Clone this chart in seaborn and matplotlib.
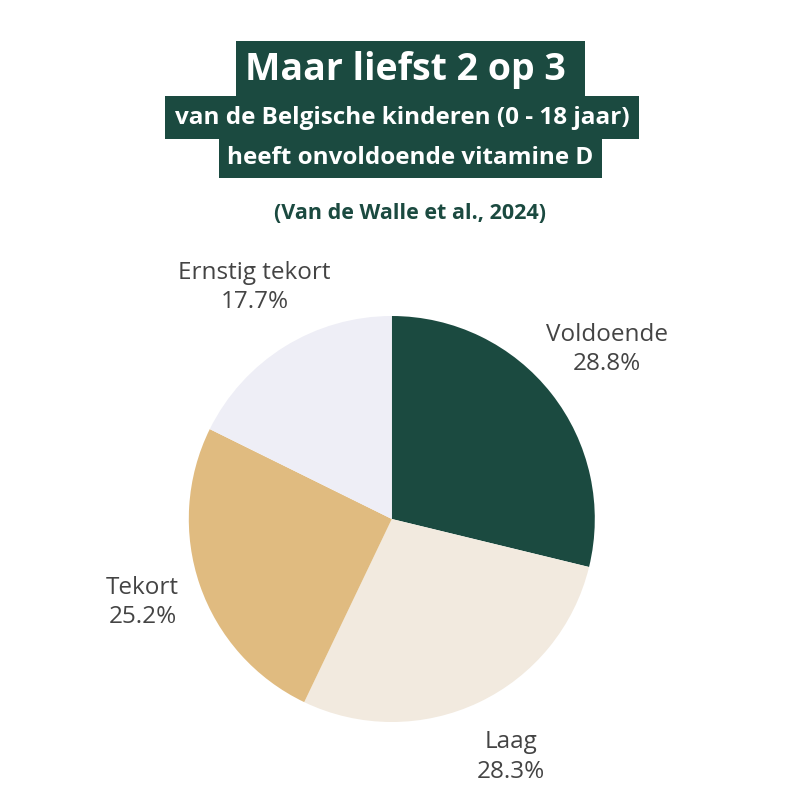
import matplotlib
matplotlib.use("Agg")
import matplotlib.pyplot as plt
import seaborn as sns

# data
categories = ["Voldoende", "Laag", "Tekort", "Ernstig tekort"]
shares = [28.8, 28.3, 25.2, 17.7]
colors = ["#1b4a40", "#f2eadf", "#e0bb80", "#eeeef6"]

title = "Maar liefst 2 op 3 "
subtitle1 = "van de Belgische kinderen (0 - 18 jaar)"
subtitle2 = "heeft onvoldoende vitamine D"
source = "(Van de Walle et al., 2024)"

sns.set_theme(style="white")
plt.rcParams['font.family'] = ['Open Sans', 'DejaVu Sans']

green = "#1b4a40"
fig = plt.figure(figsize=(8, 8), dpi=100)
fig.patch.set_facecolor("white")

# pie axes: centre ~ (392, 519) px, radius ~ 203 px
ax = fig.add_axes([0.236, 0.0975, 0.5075, 0.5075])
labels = [f"{c}\n{v:.1f}%" for c, v in zip(categories, shares)]
wedges, texts = ax.pie(shares, colors=colors, startangle=90, counterclock=False,
                       labels=labels, labeldistance=1.32,
                       textprops=dict(ha="center", va="center", multialignment="center",
                                      color="#444444", fontsize=17.5, linespacing=1.3),
                       wedgeprops=dict(linewidth=0))
# small nudge of the labels
for t in texts:
    x, y = t.get_position()
    t.set_position((x + 0.02, y + 0.02))
ax.set_xlim(-1, 1)
ax.set_ylim(-1, 1)
ax.set_aspect("equal")
ax.axis("off")

# title blocks
fig.text(0.513, 0.913, title, ha="center", va="center", color="white",
         fontsize=27, fontweight="bold",
         bbox=dict(boxstyle="square,pad=0.25", facecolor=green, edgecolor="none"))
fig.text(0.503, 0.853, subtitle1, ha="center", va="center", color="white",
         fontsize=17.5, fontweight="bold",
         bbox=dict(boxstyle="square,pad=0.4", facecolor=green, edgecolor="none"))
fig.text(0.513, 0.803, subtitle2, ha="center", va="center", color="white",
         fontsize=17.5, fontweight="bold",
         bbox=dict(boxstyle="square,pad=0.35", facecolor=green, edgecolor="none"))
fig.text(0.5125, 0.733, source, ha="center", va="center", color=green,
         fontsize=15.5, fontweight="bold")

fig.savefig("out.png", dpi=100, facecolor="white")
